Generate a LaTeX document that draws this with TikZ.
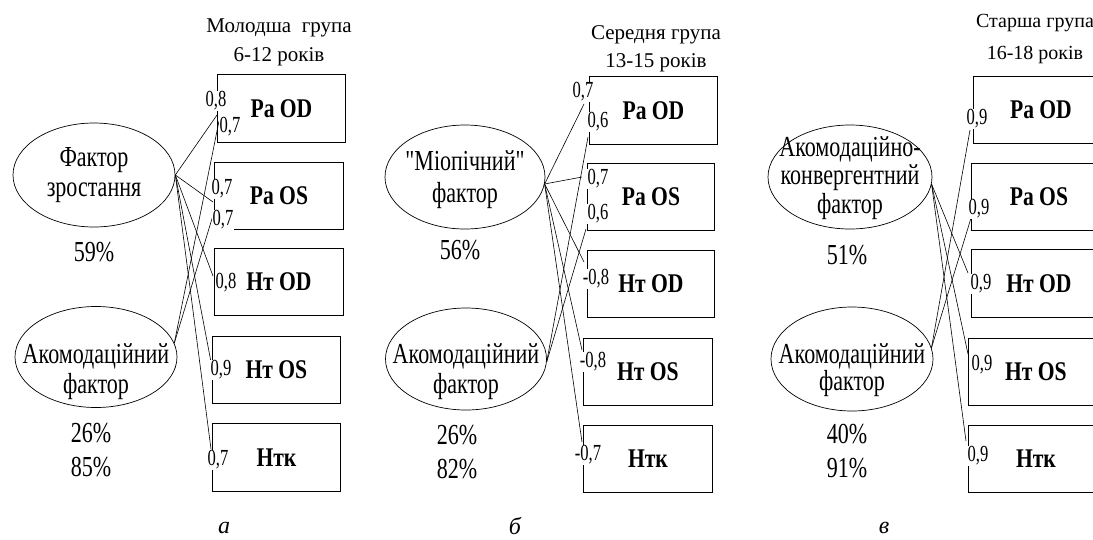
\documentclass[tikz,border=0pt]{standalone}
\usepackage{fontspec}
\usetikzlibrary{shapes.geometric}
\newfontfamily\mainff[FakeStretch=0.76]{Liberation Serif}
\newfontfamily\boxff[FakeStretch=0.80]{Liberation Serif}
\newfontfamily\ttlff{Liberation Serif}
\newfontfamily\lblff[FakeStretch=0.72]{Liberation Serif}
\begin{document}
\begin{tikzpicture}[x=1pt,y=-1pt,
 ell/.style={draw, ellipse, inner sep=0pt, line width=0.7pt},
 bx/.style={draw, line width=0.9pt, anchor=north west, inner sep=0pt, font=\boxff\bfseries\fontsize{27}{30}\selectfont},
 txt/.style={font=\mainff\fontsize{29}{30}\selectfont, align=center, inner sep=0pt},
 ttl/.style={font=\ttlff\fontsize{21}{29}\selectfont, align=center, inner sep=0pt},
 lbl/.style={font=\lblff\fontsize{23}{23}\selectfont, fill=white, inner sep=0.4pt},
 cn/.style={line width=0.6pt},
 sub/.style={font=\ttlff\itshape\fontsize{24}{24}\selectfont, inner sep=0pt}]
\useasboundingbox (0,0) rectangle (1093,539);
\clip (0,0) rectangle (1093,539);

% ================= panel a =================
\node[ttl] (ta) at (279,42) {Молодша\ \ група\\6-12 років};
\node[bx, minimum width=128, minimum height=68] (a1) at (217,74) {Ра OD};
\node[bx, minimum width=129, minimum height=67] (a2) at (214,162) {Ра OS};
\node[bx, minimum width=129, minimum height=67] (a3) at (214,248) {Нт OD};
\node[bx, minimum width=128, minimum height=67] (a4) at (212,336) {Нт OS};
\node[bx, minimum width=128, minimum height=68] (a5) at (212,423) {Нтк};
\node[ell, minimum width=162, minimum height=104] (ea1) at (94,175) {};
\node[ell, minimum width=162, minimum height=101] (ea2) at (96,357) {};
\node[txt] (tea1) at (94,175) {Фактор\\зростання};
\node[txt] (tea2) at (96,372) {Акомодаційний\\фактор};
\node[txt] (pa1) at (94,252) {59\%};
\node[txt, font=\mainff\fontsize{29}{34}\selectfont] (pa2) at (91,450) {26\%\\85\%};
\node[sub] (la) at (224,528) {а};
\coordinate (ca1) at (217,115);
\coordinate (ca1b) at (219,121);
\coordinate (ca2) at (213,202);
\coordinate (ca2b) at (214,212);
\coordinate (ca3) at (213,276);
\coordinate (ca4) at (211,362);
\coordinate (ca5) at (211,449);
\draw[cn] (ea1.east) -- (ca1);
\draw[cn] (ea1.east) -- (ca2);
\draw[cn] (ea1.east) -- (ca3);
\draw[cn] (ea1.east) -- (ca4);
\draw[cn] (ea1.east) -- (ca5);
\draw[cn] (ea2.10) -- (ca1b);
\draw[cn] (ea2.10) -- (ca2b);
\node[lbl] (ka1) at (216,101) {0,8};
\node[lbl] (ka1b) at (230,127) {0,7};
\node[lbl] (ka2) at (222,189) {0,7};
\node[lbl] (ka2b) at (223,220) {0,7};
\node[lbl] (ka3) at (226,283) {0,8};
\node[lbl] (ka4) at (221,370) {0,9};
\node[lbl] (ka5) at (218,460) {0,7};

% ================= panel b =================
\node[ttl, font=\ttlff\fontsize{21}{28}\selectfont] (tb) at (656,49) {Середня\ група\\13-15 років};
\node[bx, minimum width=128, minimum height=68] (b1) at (589,76) {Ра OD};
\node[bx, minimum width=127, minimum height=67] (b2) at (587,163) {Ра OS};
\node[bx, minimum width=127, minimum height=67] (b3) at (587,250) {Нт OD};
\node[bx, minimum width=129, minimum height=67] (b4) at (583,338) {Нт OS};
\node[bx, minimum width=129, minimum height=67] (b5) at (583,425) {Нтк};
\node[ell, minimum width=160, minimum height=104] (eb1) at (465,177) {};
\node[ell, minimum width=161, minimum height=102] (eb2) at (466,359) {};
\node[txt, font=\mainff\fontsize{29}{32}\selectfont] (teb1) at (465,180) {"Міопічний"\\фактор};
\node[txt] (teb2) at (466,372) {Акомодаційний\\фактор};
\node[txt] (pb1) at (460,250) {56\%};
\node[txt, font=\mainff\fontsize{29}{34}\selectfont] (pb2) at (457,452) {26\%\\82\%};
\node[sub] (lb) at (515,526) {б};
\coordinate (cb1) at (584,104);
\coordinate (cb1b) at (588,137);
\coordinate (cb2) at (582,177);
\coordinate (cb2b) at (586,229);
\coordinate (cb3) at (584,262);
\coordinate (cb4) at (582,350);
\coordinate (cb5) at (582,442);
\draw[cn] (eb1.-5) -- (cb1);
\draw[cn] (eb1.-5) -- (cb2);
\draw[cn] (eb1.-5) -- (cb3);
\draw[cn] (eb1.-5) -- (cb4);
\draw[cn] (eb1.-5) -- (cb5);
\draw[cn] (eb2.-2) -- (cb1b);
\draw[cn] (eb2.-2) -- (cb2b);
\node[lbl] (kb1) at (583,92) {0,7};
\node[lbl] (kb1b) at (598,122) {0,6};
\node[lbl] (kb2) at (598,179) {0,7};
\node[lbl] (kb2b) at (598,214) {0,6};
\node[lbl] (kb3) at (596,279) {-0,8};
\node[lbl] (kb4) at (593,362) {-0,8};
\node[lbl] (kb5) at (588,455) {-0,7};

% ================= panel c =================
\node[ttl, font=\ttlff\fontsize{20}{32}\selectfont] (tc) at (1035,39) {Старша група\\16-18 років};
\node[bx, minimum width=135, minimum height=67] (c1) at (973,76) {Ра OD};
\node[bx, minimum width=135, minimum height=67] (c2) at (971,163) {Ра OS};
\node[bx, minimum width=135, minimum height=68] (c3) at (971,249) {Нт OD};
\node[bx, minimum width=135, minimum height=67] (c4) at (968,338) {Нт OS};
\node[bx, minimum width=135, minimum height=67] (c5) at (968,425) {Нтк};
\node[ell, minimum width=164, minimum height=104] (ec1) at (850,177) {};
\node[ell, minimum width=162, minimum height=104] (ec2) at (852,359) {};
\node[txt, font=\mainff\fontsize{29}{28.5}\selectfont] (tec1) at (850,178) {Акомодаційно-\\конвергентний\\фактор};
\node[txt, font=\mainff\fontsize{29}{27}\selectfont] (tec2) at (852,370) {Акомодаційний\\фактор};
\node[txt] (pc1) at (847,255) {51\%};
\node[txt, font=\mainff\fontsize{29}{34}\selectfont] (pc2) at (847,451) {40\%\\91\%};
\node[sub] (lc) at (884,528) {в};
\coordinate (cc1) at (970,130);
\coordinate (cc2) at (971,218);
\coordinate (cc3) at (968,273);
\coordinate (cc4) at (968,354);
\coordinate (cc5) at (966,441);
\draw[cn] (ec1.-5) -- (cc3);
\draw[cn] (ec1.-5) -- (cc4);
\draw[cn] (ec1.-5) -- (cc5);
\draw[cn] (ec2.8) -- (cc1);
\draw[cn] (ec2.8) -- (cc2);
\node[lbl] (kc1) at (977,119) {0,9};
\node[lbl] (kc2) at (979,209) {0,9};
\node[lbl] (kc3) at (981,284) {0,9};
\node[lbl] (kc4) at (982,365) {0,9};
\node[lbl] (kc5) at (978,456) {0,9};
\end{tikzpicture}
\end{document}
